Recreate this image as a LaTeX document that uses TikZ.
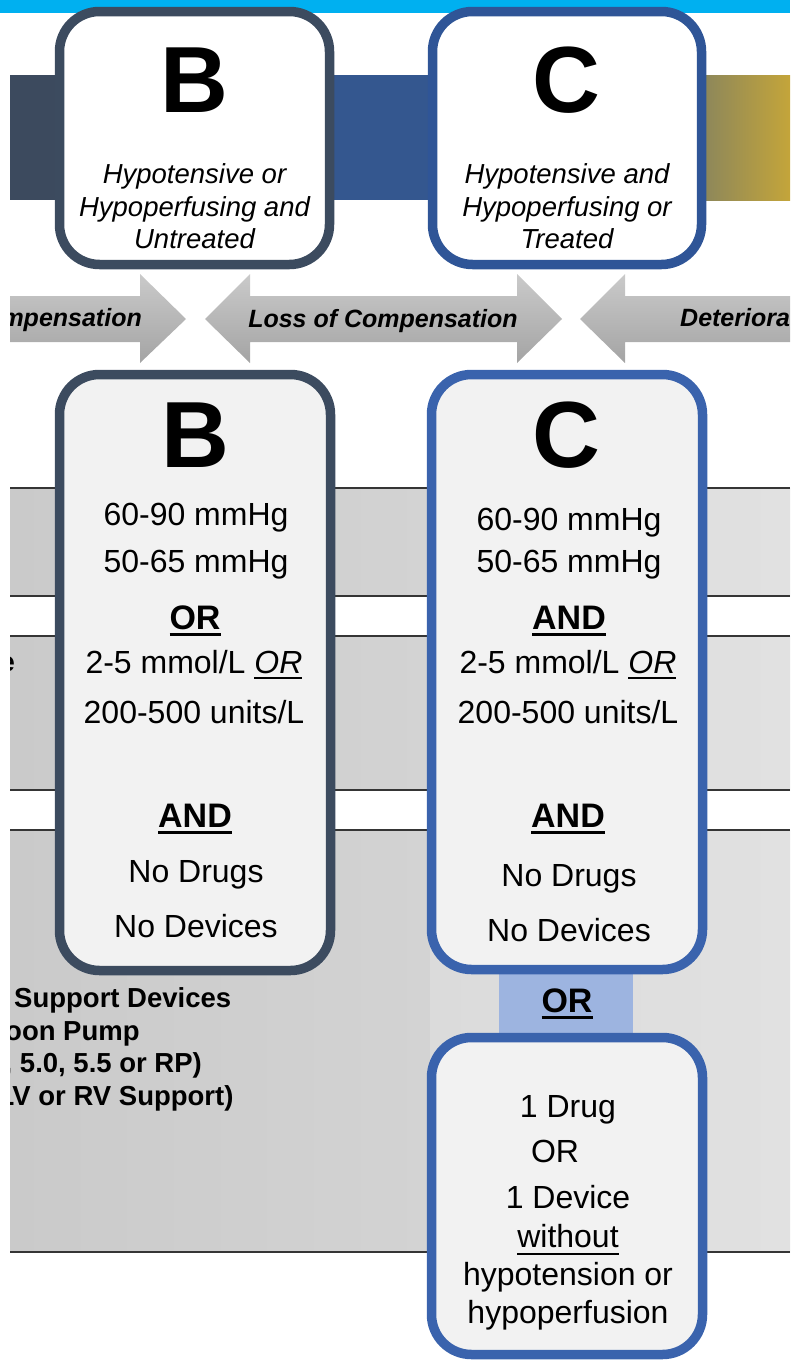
\documentclass[tikz,border=0pt]{standalone}
\usepackage{fontspec}
\setmainfont{Liberation Sans}

\definecolor{cyanbar}{HTML}{00B0F0}
\definecolor{slate}{HTML}{3C4B5F}
\definecolor{blueTop}{HTML}{2F5597}
\definecolor{blueLow}{HTML}{3A63AD}
\definecolor{boxfill}{HTML}{F2F2F2}
\definecolor{linkblue}{HTML}{9DB4E0}
\definecolor{bandL}{HTML}{3C4A5E}
\definecolor{bandM}{HTML}{34578F}
\definecolor{bandR}{HTML}{C4A53A}
\definecolor{arrowTop}{HTML}{CACACA}
\definecolor{arrowBot}{HTML}{A4A4A4}
\definecolor{rowA}{HTML}{CACACA}
\definecolor{rowB}{HTML}{D3D3D3}
\definecolor{rowC}{HTML}{DBDBDB}
\definecolor{rowD}{HTML}{E1E1E1}
\definecolor{rowline}{HTML}{353535}

% text with a rule under it: #1 = rule offset, #2 = rule thickness
\newcommand{\undl}[3]{\setbox0\hbox{#3}\leavevmode\rlap{\raisebox{#1}{\rule{\wd0}{#2}}}\box0}

\tikzset{
  panel/.style={draw, line width=9.5pt, inner sep=0pt, outer sep=0pt, rounded corners=40pt},
  txt/.style={font=\fontsize{32}{38}\selectfont, inner sep=0pt, anchor=base},
  boldtxt/.style={font=\fontsize{34}{40}\selectfont\bfseries, inner sep=0pt, anchor=base},
  letter/.style={font=\fontsize{94}{100}\selectfont\bfseries, inner sep=0pt, anchor=base},
  ital/.style={font=\fontsize{27.5}{31}\selectfont\itshape, inner sep=0pt, anchor=base},
  arrowtxt/.style={font=\fontsize{25}{30}\selectfont\bfseries\itshape, inner sep=0pt},
  sidetxt/.style={font=\fontsize{27.5}{31}\selectfont\bfseries, inner sep=0pt, anchor=base west},
  arrowfill/.style={top color=arrowTop, bottom color=arrowBot},
  rowrule/.style={draw=rowline, line width=2pt},
}

\begin{document}
\begin{tikzpicture}[x=1pt, y=-1pt]
\useasboundingbox (0,0) rectangle (790,1360);

% header strip
\fill[cyanbar] (0,0) rectangle (790,13);

% stage band behind the upper cards
\fill[bandL] (10,75) rectangle (200,200);
\fill[bandM] (200,75) rectangle (566,200);
\shade[left color=bandM, right color=bandR] (566,75) rectangle (790,200);

% table rows
\foreach \ya/\yb in {488/596, 636/790, 830/1252} {
  \shade[left color=rowA, right color=rowB] (10,\ya) rectangle (430,\yb);
  \shade[left color=rowC, right color=rowD] (430,\ya) rectangle (790,\yb);
  \draw[rowrule] (10,\ya) -- (790,\ya);
  \draw[rowrule] (10,\yb) -- (790,\yb);
}

\begin{scope}
\clip (10,0) rectangle (790,1360);
% transition arrows
\shade[arrowfill] (0,296) -- (140,296) -- (140,274) -- (186,319) -- (140,363) -- (140,342) -- (0,342) -- cycle;
\shade[arrowfill] (205,319) -- (250,274) -- (250,296) -- (517,296) -- (517,274) -- (562,319)
  -- (517,363) -- (517,342) -- (250,342) -- (250,363) -- cycle;
\shade[arrowfill] (580,319) -- (625,274) -- (625,296) -- (800,296) -- (800,342) -- (625,342) -- (625,363) -- cycle;
\node[arrowtxt, anchor=base east] (lblcomp) at (142,326) {mpensation};
\node[arrowtxt, anchor=base] (lblloss) at (383,327) {Loss of Compensation};
\node[arrowtxt, anchor=base west] (lbldet) at (680,326) {Deteriora};

% row labels on the left
\node[sidetxt, anchor=base east] (lblrow2) at (15,671) {e};
\node[sidetxt] (lbldev1) at (14,1007) {Support Devices};
\node[sidetxt] (lbldev2) at (5,1040) {oon Pump};
\node[sidetxt] (lbldev3) at (4.5,1072) {, 5.0, 5.5 or RP)};
\node[sidetxt] (lbldev4) at (-2.5,1105) {LV or RV Support)};
\end{scope}

% link between the two C criteria cards
\node[fill=linkblue, inner sep=0pt, minimum width=134pt, minimum height=84pt] (orlink) at (566,1002) {};

% upper cards
\node[panel, draw=slate, fill=white, minimum width=270pt, minimum height=253pt] (topB) at (194.5,138) {};
\node[panel, draw=blueTop, fill=white, minimum width=269pt, minimum height=253pt] (topC) at (567,138) {};

% criteria cards
\node[panel, draw=slate, fill=boxfill, minimum width=271pt, minimum height=596pt] (critB) at (195,672.5) {};
\node[panel, draw=blueLow, fill=boxfill, minimum width=271pt, minimum height=595pt] (critC) at (567,672) {};
\node[panel, draw=blueLow, fill=boxfill, minimum width=271pt, minimum height=317pt] (altC) at (567,1196) {};

% upper card text
\node[letter] (tBl) at (194.5,112) {B};
\node[ital] (tB1) at (194.5,183) {Hypotensive or};
\node[ital] (tB2) at (194.5,216) {Hypoperfusing and};
\node[ital] (tB3) at (194.5,248) {Untreated};
\node[letter] (tCl) at (566,112) {C};
\node[ital] (tC1) at (567,183) {Hypotensive and};
\node[ital] (tC2) at (567,216) {Hypoperfusing or};
\node[ital] (tC3) at (567,248) {Treated};

% criteria card B
\node[letter] (bL) at (195,467) {B};
\node[txt] (b1) at (196,525) {60-90 mmHg};
\node[txt] (b2) at (196,572) {50-65 mmHg};
\node[boldtxt] (b3) at (195,629) {\undl{-7pt}{3.5pt}{OR}};
\node[txt] (b4) at (194,673) {2-5 mmol/L \undl{-5.5pt}{2pt}{\itshape OR}};
\node[txt] (b5) at (194,723) {200-500 units/L};
\node[boldtxt] (b6) at (195,827) {\undl{-7pt}{3.5pt}{AND}};
\node[txt] (b7) at (196,882) {No Drugs};
\node[txt] (b8) at (196,937) {No Devices};

% criteria card C
\node[letter] (cL) at (566,467) {C};
\node[txt] (c1) at (569,530) {60-90 mmHg};
\node[txt] (c2) at (569,572) {50-65 mmHg};
\node[boldtxt] (c3) at (569,629) {\undl{-7pt}{3.5pt}{AND}};
\node[txt] (c4) at (568,673) {2-5 mmol/L \undl{-5.5pt}{2pt}{\itshape OR}};
\node[txt] (c5) at (568,723) {200-500 units/L};
\node[boldtxt] (c6) at (568,827) {\undl{-7pt}{3.5pt}{AND}};
\node[txt] (c7) at (569,886) {No Drugs};
\node[txt] (c8) at (569,941) {No Devices};

% link label
\node[boldtxt] (linkor) at (567,1012) {\undl{-7pt}{3.5pt}{OR}};

% alternative C card
\node[txt] (a1) at (568,1117) {1 Drug};
\node[txt] (a2) at (555,1162) {OR};
\node[txt] (a3) at (568,1208) {1 Device};
\node[txt] (a4) at (568,1247) {\undl{-7.5pt}{2pt}{without}};
\node[txt] (a5) at (568,1285) {hypotension or};
\node[txt] (a6) at (568,1323) {hypoperfusion};
\end{tikzpicture}
\end{document}
